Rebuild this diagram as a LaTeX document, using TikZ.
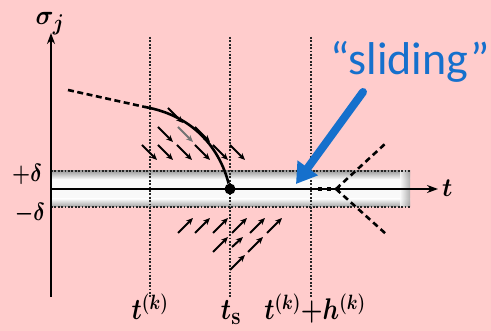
\documentclass[tikz,border=0pt]{standalone}
\usepackage{amsmath, amssymb, bm}
\usepackage{xcolor}
\usepackage{fontspec}
\usepackage{tikz}
\usetikzlibrary{positioning, arrows.meta}

\newfontfamily\slidingfont{Carlito}
\definecolor{bgpink}{RGB}{255,204,204}
\definecolor{slideblue}{RGB}{22,112,204}
\newcommand{\tallmath}[2][1.25]{\scalebox{1}[#1]{\boldmath$#2$}}

\begin{document}
\begin{tikzpicture}[x=1pt, y=-1pt, >=Stealth,
    axis/.style={line width=2pt, -{Stealth[length=11pt, width=8pt]}},
    guide/.style={line width=2.4pt, dash pattern=on 1.8pt off 1.6pt, black!85},
    bandedge/.style={line width=2pt, dash pattern=on 1.8pt off 1.6pt, black!85},
    field/.style={line width=2pt, -{Stealth[length=7pt, width=6pt]}},
    traj/.style={line width=2.6pt},
    lbl/.style={inner sep=0pt, font=\fontsize{32}{36}\selectfont}]
  \useasboundingbox[fill=bgpink] (0,0) rectangle (491,331);

  % band
  \fill[gray!5] (51,171) rectangle (410,207);
  \shade[top color=gray!75, bottom color=gray!5] (51,171) rectangle (410,179);
  \shade[top color=gray!5, bottom color=gray!75] (51,199) rectangle (410,207);
  \shade[left color=gray!5, right color=gray!75, opacity=.8] (400,171) rectangle (410,207);
  \draw[bandedge] (51,171) -- (410,171);
  \draw[bandedge] (51,207) -- (410,207);

  \coordinate (O) at (51,189);
  \coordinate (Ytop) at (51,33);
  \coordinate (Ybot) at (51,297);
  \coordinate (Tend) at (438,189);
  \draw[line width=2pt] (Ybot) -- (O);
  \draw[axis] (O) -- (Ytop);
  \draw[axis] (O) -- (Tend);

  \foreach \x/\name in {150/tk, 230/ts, 311/th} {
    \draw[guide] (\x,37) -- (\x,297);
    \coordinate (\name) at (\x,297);
  }

  \node[lbl, anchor=base] (tklbl) at (150,320) {\tallmath[1.2]{t^{\scriptscriptstyle(k)}}};
  \node[lbl, anchor=base] (tslbl) at (231,320) {\tallmath[1.2]{t_{\mathbf{s}}}};
  \node[lbl, anchor=base] (thlbl) at (315,320) {\tallmath[1.2]{t^{\scriptscriptstyle(k)}{+}h^{\scriptscriptstyle(k)}}};
  \node[lbl, font=\fontsize{30}{34}\selectfont, anchor=base west] (tlbl) at (442,197) {\tallmath[1.05]{t}};
  \node[lbl, font=\fontsize{28}{30}\selectfont] (sigmalbl) at (50,24) {\tallmath[1.1]{\sigma_j}};
  \node[lbl, font=\fontsize{21}{24}\selectfont] (uplbl) at (27,174) {\tallmath[1.2]{+\delta}};
  \node[lbl, font=\fontsize{21}{24}\selectfont] (lowlbl) at (30,214) {\tallmath[1.2]{-\delta}};

  % trajectory
  \node[circle, fill, inner sep=0pt, minimum size=11pt] (hit) at (230,189) {};
  \draw[traj, dash pattern=on 6pt off 3.5pt] (68,90) -- (145,107);
  \draw[traj] (145,107) .. controls (195,116) and (220,150) .. (hit);
  \draw[line width=2.6pt] (hit) -- (318,189);
  \draw[line width=3.6pt, dash pattern=on 4pt off 5pt] (318,189) -- (340,189);
  \coordinate (fan) at (336,189);
  \draw[traj, dash pattern=on 6pt off 4pt] (fan) -- (386,143);
  \draw[traj, dash pattern=on 6pt off 4pt] (fan) -- (386,234);

  % vector field
  \foreach \x/\y in {168/108, 158/127, 195/127, 142/145, 158/145, 177/145, 195/145, 213/145, 230/145}
    \draw[field] (\x,\y) -- ++(15,15);
  \draw[field, black!55] (178,127) -- ++(15,15);
  \foreach \x/\y in {178/233, 195/233, 213/233, 232/233, 250/233, 267/233, 213/252, 248/252, 230/270}
    \draw[field] (\x,\y) -- ++(15,-15);
  \draw[field] (232,247) -- ++(11,-10);

  \node[text=slideblue, font=\slidingfont\fontsize{46}{50}\selectfont, inner sep=0pt] (sliding) at (410,62) {“sliding”};
  \coordinate (slidefoot) at (363,92);
  \coordinate (slidetip) at (296,184);
  \draw[slideblue, line width=8pt, line cap=round, -{Triangle[length=20pt, width=24pt]}] (slidefoot) -- (slidetip);
\end{tikzpicture}
\end{document}
